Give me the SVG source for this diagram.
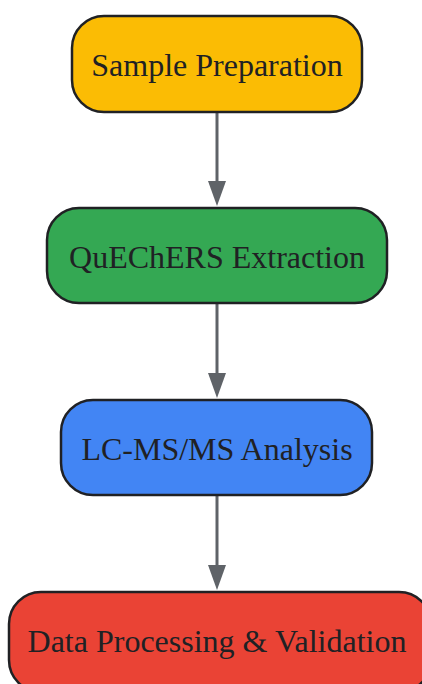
<svg xmlns="http://www.w3.org/2000/svg" width="422" height="684" viewBox="0 0 422 684">
<defs>
<style>
.node rect{stroke:#202124;stroke-width:2.5}
.node text{font-family:"Liberation Serif","Times New Roman",serif;font-size:32px;fill:#202124;text-anchor:middle}
.edge{stroke:#5f6368;stroke-width:3;fill:none}
.head{fill:#5f6368}
</style>
</defs>
<rect width="422" height="684" fill="#ffffff"/>
<g id="connectors">
<path d="M217,113 V181" class="edge"/><path d="M208,181 L226,181 L217,206 Z" class="head"/>
<path d="M217,304 V373" class="edge"/><path d="M208,373 L226,373 L217,398 Z" class="head"/>
<path d="M217,496 V565" class="edge"/><path d="M208,565 L226,565 L217,590 Z" class="head"/>
</g>
<g id="sample-preparation" class="node">
<rect x="72" y="16" width="290" height="96" rx="32" fill="#FBBC04"/>
<text x="217" y="75.500">Sample Preparation</text>
</g>
<g id="quechers-extraction" class="node">
<rect x="47" y="208" width="340" height="95" rx="32" fill="#34A853"/>
<text x="217" y="267.500">QuEChERS Extraction</text>
</g>
<g id="lcmsms-analysis" class="node">
<rect x="61" y="400" width="311" height="95" rx="32" fill="#4285F4"/>
<text x="217" y="459.500">LC-MS/MS Analysis</text>
</g>
<g id="data-processing" class="node">
<rect x="9" y="592" width="422" height="100" rx="32" fill="#EA4335"/>
<text x="217" y="651.500">Data Processing &amp; Validation</text>
</g>
</svg>
